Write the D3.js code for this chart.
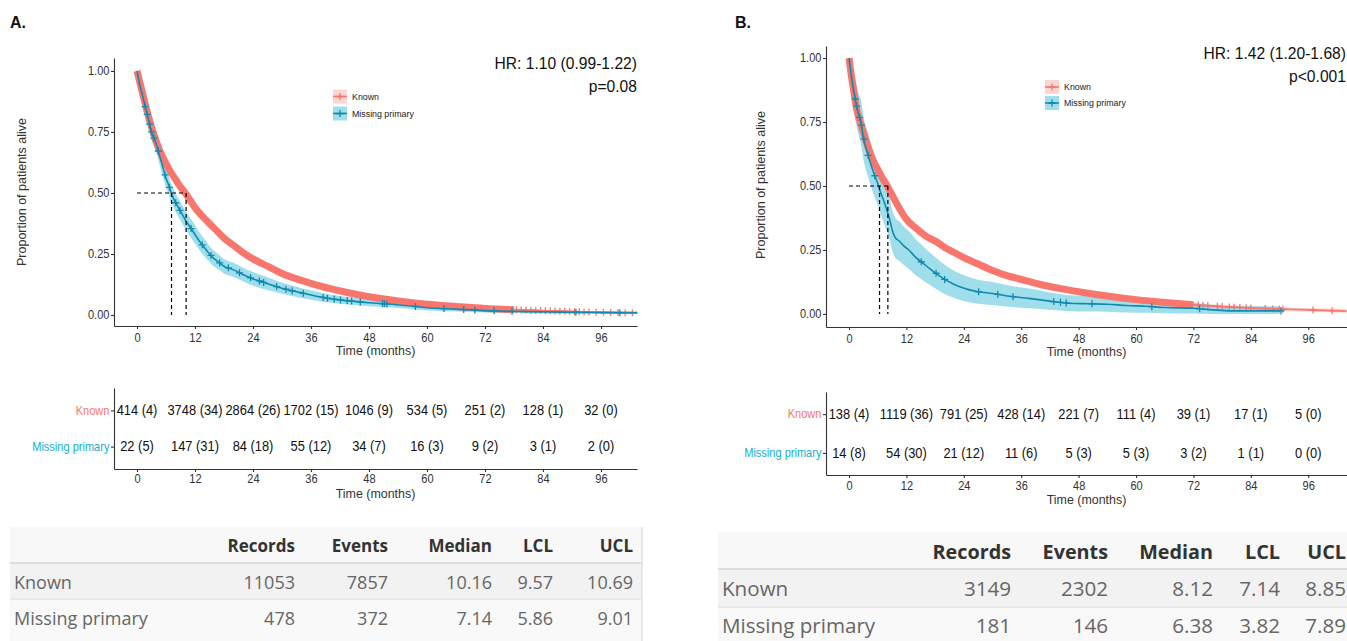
<!DOCTYPE html>
<html>
<head>
<meta charset="utf-8">
<script src="https://cdn.jsdelivr.net/npm/d3@7"></script>
<style>
  body { margin: 0; background: #fff; }
  svg { display: block; }
</style>
</head>
<body>
<div id="chart"></div>
<script>
// ---------- data ----------
const groups = ["Known", "Missing primary"];
const monthTicks = [0, 12, 24, 36, 48, 60, 72, 84, 96];
const survTicks = [0, 0.25, 0.5, 0.75, 1];
const tableCols = ["Records", "Events", "Median", "LCL", "UCL"];

// Panel A - survival curves (time in months, survival, CI low, CI high)
const knownA_t  = [0,0.5,1,1.5,2,3,4,5,6,7,8,9,10,11,12,14,16,18,20,22,24,27,30,33,36,40,44,48,54,60,66,72,78,84,90,96,103.5];
const knownA_s  = [1.00,0.96,0.92,0.88,0.84,0.77,0.71,0.66,0.62,0.585,0.555,0.525,0.50,0.47,0.44,0.395,0.355,0.315,0.285,0.255,0.23,0.20,0.17,0.148,0.13,0.108,0.09,0.075,0.058,0.044,0.035,0.027,0.022,0.018,0.014,0.011,0.009];
const knownA_lo = [1.00,0.955,0.915,0.875,0.835,0.762,0.702,0.652,0.612,0.577,0.547,0.517,0.492,0.462,0.432,0.387,0.347,0.308,0.278,0.248,0.223,0.194,0.164,0.143,0.125,0.103,0.086,0.071,0.054,0.041,0.032,0.024,0.019,0.015,0.011,0.008,0.005];
const knownA_hi = [1.00,0.965,0.925,0.885,0.845,0.778,0.718,0.668,0.628,0.593,0.563,0.533,0.508,0.478,0.448,0.403,0.363,0.322,0.292,0.262,0.237,0.206,0.176,0.153,0.135,0.113,0.094,0.079,0.062,0.047,0.038,0.03,0.025,0.021,0.017,0.014,0.013];
const censKnownA = [78.5,79.5,80.5,81.5,82.5,83.5,84.5,85.5,86.5,87.5,88.5,89.5,90.5,91.5,92.5,93.5,95,96.5,98,99.5,101,102.5];

const missA_t  = [0,0.3,0.6,1,1.5,2,2.5,3,3.5,4,4.5,5,5.5,6,6.5,7,7.5,8,9,10,11,12,13,14,15,16,17,18,20,22,24,26,28,30,33,36,39,42,45,48,52,56,60,66,72,80,88,96,103.5];
const missA_s  = [1.00,0.97,0.94,0.91,0.87,0.83,0.79,0.75,0.725,0.70,0.665,0.63,0.595,0.56,0.535,0.505,0.48,0.46,0.425,0.39,0.36,0.33,0.30,0.275,0.25,0.23,0.215,0.20,0.185,0.165,0.148,0.135,0.122,0.11,0.095,0.082,0.07,0.062,0.056,0.05,0.045,0.038,0.03,0.024,0.018,0.014,0.012,0.01,0.009];
const missA_lo = [1.00,0.955,0.92,0.885,0.84,0.80,0.755,0.715,0.69,0.665,0.628,0.592,0.557,0.522,0.497,0.467,0.442,0.422,0.387,0.352,0.322,0.292,0.264,0.24,0.217,0.198,0.184,0.17,0.156,0.137,0.12,0.108,0.097,0.087,0.074,0.063,0.053,0.046,0.041,0.036,0.032,0.026,0.019,0.014,0.01,0.007,0.005,0.004,0.003];
const missA_hi = [1.00,0.985,0.96,0.935,0.90,0.86,0.825,0.785,0.76,0.735,0.702,0.668,0.633,0.598,0.573,0.543,0.518,0.498,0.463,0.428,0.398,0.368,0.336,0.31,0.283,0.262,0.246,0.23,0.214,0.193,0.176,0.162,0.147,0.133,0.116,0.101,0.087,0.078,0.071,0.064,0.058,0.05,0.041,0.034,0.026,0.021,0.019,0.016,0.015];
const censMissA = [1.7,2.1,2.6,3.0,3.5,4.4,5.8,6.7,8.0,8.9,11.2,13.5,15.3,17.1,18.9,21.2,23.5,25.3,26.2,28.9,30.8,32.1,34.4,38.5,39.4,40.8,42.1,43.5,44.4,46.2,50.8,51.2,51.7,57.6,63.5,67.6,69.9,73.9,77.6,90.8,99.9];

// Panel B - survival curves
const knownB_t  = [0,0.5,1,1.5,2,2.5,3,4,5,6,7,8,9,10,12,14,16,18,20,22,24,27,30,33,36,40,44,48,54,60,66,72,78,84,90,96,104];
const knownB_s  = [1.00,0.93,0.87,0.81,0.77,0.74,0.71,0.65,0.60,0.565,0.53,0.50,0.465,0.43,0.37,0.335,0.305,0.285,0.26,0.24,0.22,0.195,0.17,0.15,0.135,0.115,0.1,0.087,0.07,0.056,0.045,0.036,0.029,0.023,0.019,0.016,0.011];
const knownB_lo = [1.00,0.92,0.858,0.797,0.756,0.725,0.695,0.634,0.584,0.549,0.514,0.484,0.449,0.414,0.355,0.32,0.291,0.271,0.247,0.227,0.208,0.183,0.159,0.14,0.125,0.106,0.092,0.079,0.063,0.049,0.038,0.029,0.022,0.016,0.012,0.009,0.004];
const knownB_hi = [1.00,0.94,0.882,0.823,0.784,0.755,0.725,0.666,0.616,0.581,0.546,0.516,0.481,0.446,0.385,0.35,0.319,0.299,0.273,0.253,0.232,0.207,0.181,0.16,0.145,0.124,0.108,0.095,0.077,0.063,0.052,0.043,0.036,0.03,0.026,0.023,0.018];
const censKnownB = [73,74,75,77,78,79.5,80.5,81.7,83,84,87,88.6,90,90.7,97,101];

const missB_t  = [0,0.5,1,1.5,2,2.5,3,4,5,6,6.5,7,7.5,8,8.5,9,9.6,10.5,11.5,12.5,14,15.5,17,18.5,20,21.5,23,25,27,30,34,38,42,46,50,54,58,62,66,72,76,80,90];
const missB_s  = [1.00,0.93,0.87,0.82,0.78,0.75,0.69,0.62,0.56,0.51,0.48,0.455,0.43,0.40,0.37,0.33,0.30,0.285,0.265,0.25,0.22,0.198,0.175,0.155,0.135,0.12,0.107,0.095,0.087,0.08,0.068,0.06,0.05,0.042,0.04,0.038,0.033,0.03,0.025,0.022,0.016,0.012,0.012];
const missB_lo = [1.00,0.87,0.80,0.74,0.70,0.665,0.605,0.535,0.475,0.425,0.395,0.37,0.345,0.318,0.288,0.25,0.222,0.208,0.19,0.176,0.15,0.131,0.112,0.095,0.078,0.066,0.055,0.046,0.04,0.035,0.027,0.022,0.016,0.011,0.01,0.009,0.006,0.005,0.003,0.002,0.0,0.0,0.0];
const missB_hi = [1.00,0.99,0.94,0.90,0.86,0.835,0.775,0.705,0.645,0.595,0.565,0.54,0.515,0.482,0.452,0.41,0.378,0.362,0.34,0.324,0.29,0.265,0.238,0.215,0.192,0.174,0.159,0.144,0.134,0.125,0.109,0.098,0.084,0.073,0.07,0.067,0.06,0.055,0.047,0.042,0.035,0.03,0.03];
const censMissB = [1.3,1.6,2.2,2.6,3.1,4.0,5.4,15.1,18.2,20,27.1,31.1,34.3,42.8,44.2,45.4,50.8,63.3,73.3,90.3];

// medians [Known, Missing primary]
const medianA = [10.16, 7.14];
const medianB = [8.12, 6.38];

// number at risk (number censored)
const riskA_known_n = [414,3748,2864,1702,1046,534,251,128,32];
const riskA_known_c = [4,34,26,15,9,5,2,1,0];
const riskA_miss_n  = [22,147,84,55,34,16,9,3,2];
const riskA_miss_c  = [5,31,18,12,7,3,2,1,0];
const riskB_known_n = [138,1119,791,428,221,111,39,17,5];
const riskB_known_c = [4,36,25,14,7,4,1,1,0];
const riskB_miss_n  = [14,54,21,11,5,5,3,1,0];
const riskB_miss_c  = [8,30,12,6,3,3,2,1,0];

// summary tables
const tableA_known = ["11053","7857","10.16","9.57","10.69"];
const tableA_miss  = ["478","372","7.14","5.86","9.01"];
const tableB_known = ["3149","2302","8.12","7.14","8.85"];
const tableB_miss  = ["181","146","6.38","3.82","7.89"];

const hrA = "HR: 1.10 (0.99-1.22)", pA = "p=0.08";
const hrB = "HR: 1.42 (1.20-1.68)", pB = "p<0.001";

// ---------- styling ----------
const COL = { known: "#F8766D", missLine: "#118ab0", missBand: "#2bb5d0", missText: "#17b0d3", axis: "#333" };
const GG_FONT = "'Liberation Sans', Arial, sans-serif";
const TB_FONT = "'Open Sans', sans-serif";
const SX = 0.92;   // ggplot figure is slightly squeezed horizontally

const svg = d3.select("#chart").append("svg")
  .attr("width", 1347)
  .attr("height", 641);

function label(g, x, y, str, o) {
  return g.append("text")
    .attr("transform", "translate(" + x + "," + y + ")" + (o.rotate ? " rotate(" + o.rotate + ")" : "") + " scale(" + (o.rotate ? 1 : SX) + ",1)")
    .attr("text-anchor", o.anchor || "start")
    .attr("dominant-baseline", "central")
    .style("font-family", o.font || GG_FONT)
    .style("font-size", o.size + "px")
    .style("font-weight", o.weight || "normal")
    .attr("fill", o.color || COL.axis)
    .text(str);
}

function styleAxis(ax, size) {
  ax.selectAll("path,line").attr("stroke", COL.axis).attr("stroke-width", 1.1);
  ax.selectAll("text")
    .attr("fill", COL.axis)
    .style("font-family", GG_FONT)
    .style("font-size", size + "px")
    .attr("transform", "scale(" + SX + ",1)");
}

function rowsOf(c) {
  return c.t.map(function(t, i){ return { t: t, s: c.s[i], lo: c.lo[i], hi: c.hi[i] }; });
}

function survAt(c, t) {
  let i = d3.bisectRight(c.t, t) - 1;
  if (i < 0) i = 0;
  if (i >= c.t.length - 1) return c.s[c.s.length - 1];
  const f = (t - c.t[i]) / (c.t[i+1] - c.t[i]);
  return c.s[i] + f * (c.s[i+1] - c.s[i]);
}

const plusPath = "M-3.5,0H3.5M0,-3.5V3.5";

const panels = [
  {
    tag: "A.", known: { t: knownA_t, s: knownA_s, lo: knownA_lo, hi: knownA_hi, cens: censKnownA, dense: 78 },
    miss: { t: missA_t, s: missA_s, lo: missA_lo, hi: missA_hi, cens: censMissA },
    median: medianA, hr: hrA, p: pA,
    risk: [[riskA_known_n, riskA_known_c], [riskA_miss_n, riskA_miss_c]],
    table: [tableA_known, tableA_miss],
    L: { tagX: 10, left: 114, right: 637, top: 58, bottom: 326, xDom: [-4.76, 103.45], yDom: [-0.045, 1.053],
         ylabX: 22, ylabY: 192, xTitleY: 350, hrX: 637, hrY: 63, pY: 86,
         legX: 333, legY: [96.5, 113.5], legText: 352,
         rTop: 388, rBottom: 469, rPad: 0.62, rTickY: 2, rTitleY: 493,
         tb: { x0: 10, x1: 642, top: 527, sep1: 563, sep2: 599, bottom: 641, labelX: 14,
               cols: [295, 388, 492, 553, 633], hdrY: 545, rowY: [582, 618], hdr: 17, row: 18, border: true } }
  },
  {
    tag: "B.", known: { t: knownB_t, s: knownB_s, lo: knownB_lo, hi: knownB_hi, cens: censKnownB, dense: 72 },
    miss: { t: missB_t, s: missB_s, lo: missB_lo, hi: missB_hi, cens: censMissB },
    median: medianB, hr: hrB, p: pB,
    risk: [[riskB_known_n, riskB_known_c], [riskB_miss_n, riskB_miss_c]],
    table: [tableB_known, tableB_miss],
    L: { tagX: 735, left: 826, right: 1347, top: 46, bottom: 327, xDom: [-4.81, 104.1], yDom: [-0.051, 1.047],
         ylabX: 761, ylabY: 185, xTitleY: 351, hrX: 1346, hrY: 53, pY: 76,
         legX: 1045, legY: [87, 103], legText: 1064,
         rTop: 392, rBottom: 475, rPad: 0.57, rTickY: 3, rTitleY: 499,
         tb: { x0: 718, x1: 1347, top: 532, sep1: 569, sep2: 607, bottom: 641, labelX: 722,
               cols: [1011, 1108, 1213, 1280, 1346], hdrY: 551, rowY: [588, 625], hdr: 19.8, row: 20.6, border: false } }
  }
];

panels.forEach(function(P) {
  const L = P.L;
  const g = svg.append("g");
  const x = d3.scaleLinear().domain(L.xDom).range([L.left, L.right]);
  const y = d3.scaleLinear().domain(L.yDom).range([L.bottom, L.top]);

  // panel tag
  g.append("text").attr("x", L.tagX).attr("y", 28)
    .style("font-family", GG_FONT).style("font-size", "16px").style("font-weight", "bold")
    .attr("fill", "#111").text(P.tag);

  const kn = rowsOf(P.known), ms = rowsOf(P.miss);
  const band = d3.area().x(d => x(d.t)).y0(d => y(d.lo)).y1(d => y(d.hi)).curve(d3.curveMonotoneX);
  const line = d3.line().x(d => x(d.t)).y(d => y(d.s)).curve(d3.curveMonotoneX);

  // confidence bands
  g.append("path").datum(kn).attr("d", band)
    .attr("fill", COL.known).attr("fill-opacity", 0.3);
  g.append("path").datum(ms).attr("d", band)
    .attr("fill", COL.missBand).attr("fill-opacity", 0.45);

  // Known curve: dense censoring marks look like a thick band
  g.append("path").datum(kn.filter(d => d.t <= P.known.dense)).attr("d", line)
    .attr("fill", "none").attr("stroke", COL.known).attr("stroke-width", 7);
  g.append("path").datum(kn).attr("d", line)
    .attr("fill", "none").attr("stroke", COL.known).attr("stroke-width", 1.6);
  g.selectAll(null).data(P.known.cens).enter().append("path")
    .attr("d", plusPath)
    .attr("transform", t => "translate(" + x(t) + "," + y(survAt(P.known, t)) + ")")
    .attr("stroke", COL.known).attr("stroke-width", 1.3);

  // Missing primary curve
  g.append("path").datum(ms).attr("d", line)
    .attr("fill", "none").attr("stroke", COL.missLine).attr("stroke-width", 1.6);
  g.selectAll(null).data(P.miss.cens).enter().append("path")
    .attr("d", plusPath)
    .attr("transform", t => "translate(" + x(t) + "," + y(survAt(P.miss, t)) + ")")
    .attr("stroke", COL.missLine).attr("stroke-width", 1.3);

  // median survival lines
  const dash = "4,3";
  g.append("line").attr("x1", x(0)).attr("x2", x(d3.max(P.median)))
    .attr("y1", y(0.5)).attr("y2", y(0.5))
    .attr("stroke", "#000").attr("stroke-width", 1.2).attr("stroke-dasharray", dash);
  g.selectAll(null).data(P.median).enter().append("line")
    .attr("x1", d => x(d)).attr("x2", d => x(d))
    .attr("y1", y(0.5)).attr("y2", y(0))
    .attr("stroke", "#000").attr("stroke-width", 1.2).attr("stroke-dasharray", dash);

  // axes
  const ay = g.append("g").attr("transform", "translate(" + L.left + ",0)")
    .call(d3.axisLeft(y).tickValues(survTicks).tickFormat(d3.format(".2f")).tickSize(3).tickSizeOuter(0).tickPadding(2));
  styleAxis(ay, 12);
  const ax = g.append("g").attr("transform", "translate(0," + L.bottom + ")")
    .call(d3.axisBottom(x).tickValues(monthTicks).tickSize(3).tickSizeOuter(0).tickPadding(4));
  styleAxis(ax, 12);

  label(g, (L.left + L.right) / 2, L.xTitleY, "Time (months)", { size: 13.5, anchor: "middle" });
  label(g, L.ylabX, L.ylabY, "Proportion of patients alive", { size: 12.5, anchor: "middle", rotate: -90 });

  // HR and p-value
  label(g, L.hrX, L.hrY, P.hr, { size: 17, anchor: "end", color: "#111" });
  label(g, L.hrX, L.pY, P.p, { size: 17, anchor: "end", color: "#111" });

  // legend
  const legColors = [[COL.known, COL.known, 0.3], [COL.missLine, COL.missBand, 0.45]];
  groups.forEach(function(name, i) {
    const lg = g.append("g").attr("transform", "translate(" + L.legX + "," + L.legY[i] + ")");
    lg.append("rect").attr("x", 0).attr("y", -7).attr("width", 14).attr("height", 14)
      .attr("fill", legColors[i][1]).attr("fill-opacity", legColors[i][2]);
    lg.append("line").attr("x1", 0).attr("x2", 14).attr("y1", 0).attr("y2", 0)
      .attr("stroke", legColors[i][0]).attr("stroke-width", 1.6);
    lg.append("path").attr("d", plusPath).attr("transform", "translate(7,0)")
      .attr("stroke", legColors[i][0]).attr("stroke-width", 1.3);
    label(g, L.legText, L.legY[i], name, { size: 9.6, color: "#222" });
  });

  // risk table
  const yr = d3.scalePoint().domain(groups).range([L.rTop, L.rBottom]).padding(L.rPad);
  groups.forEach(function(name, gi) {
    const n = P.risk[gi][0], c = P.risk[gi][1];
    monthTicks.forEach(function(t, i) {
      label(g, x(t), yr(name), n[i] + " (" + c[i] + ")", { size: 14, anchor: "middle", color: "#111" });
    });
  });
  const ry = g.append("g").attr("transform", "translate(" + L.left + ",0)")
    .call(d3.axisLeft(yr).tickSize(3).tickSizeOuter(0).tickPadding(2));
  styleAxis(ry, 12);
  ry.selectAll("text").attr("fill", (d, i) => i === 0 ? COL.known : COL.missText);
  const rx = g.append("g").attr("transform", "translate(0," + L.rBottom + ")")
    .call(d3.axisBottom(x).tickValues(monthTicks).tickSize(3).tickSizeOuter(0).tickPadding(L.rTickY));
  styleAxis(rx, 12);
  label(g, (L.left + L.right) / 2, L.rTitleY, "Time (months)", { size: 13.5, anchor: "middle" });

  // summary table
  const T = L.tb;
  const w = T.x1 - T.x0;
  g.append("rect").attr("x", T.x0).attr("y", T.top).attr("width", w).attr("height", T.sep1 - T.top).attr("fill", "#f8f8f8");
  g.append("rect").attr("x", T.x0).attr("y", T.sep1).attr("width", w).attr("height", T.sep2 - T.sep1).attr("fill", "#f2f2f2");
  g.append("rect").attr("x", T.x0).attr("y", T.sep2).attr("width", w).attr("height", T.bottom - T.sep2).attr("fill", "#f9f9f9");
  g.append("line").attr("x1", T.x0).attr("x2", T.x1).attr("y1", T.sep1).attr("y2", T.sep1)
    .attr("stroke", "#dcdcdc").attr("stroke-width", 2);
  g.append("line").attr("x1", T.x0).attr("x2", T.x1).attr("y1", T.sep2).attr("y2", T.sep2)
    .attr("stroke", "#e4e4e4").attr("stroke-width", 1.5);
  if (T.border) {
    g.append("line").attr("x1", T.x1).attr("x2", T.x1).attr("y1", T.top).attr("y2", T.bottom)
      .attr("stroke", "#e2e2e2").attr("stroke-width", 1.5);
  }
  tableCols.forEach(function(col, i) {
    g.append("text").attr("x", T.cols[i]).attr("y", T.hdrY).attr("dominant-baseline", "central")
      .attr("text-anchor", "end").style("font-family", TB_FONT).style("font-size", T.hdr + "px")
      .style("font-weight", "bold").attr("fill", "#333").text(col);
  });
  groups.forEach(function(name, r) {
    g.append("text").attr("x", T.labelX).attr("y", T.rowY[r]).attr("dominant-baseline", "central")
      .style("font-family", TB_FONT).style("font-size", T.row + "px").attr("fill", "#666").text(name);
    P.table[r].forEach(function(v, i) {
      g.append("text").attr("x", T.cols[i]).attr("y", T.rowY[r]).attr("dominant-baseline", "central")
        .attr("text-anchor", "end").style("font-family", TB_FONT).style("font-size", T.row + "px")
        .attr("fill", "#666").text(v);
    });
  });
});
</script>
</body>
</html>
